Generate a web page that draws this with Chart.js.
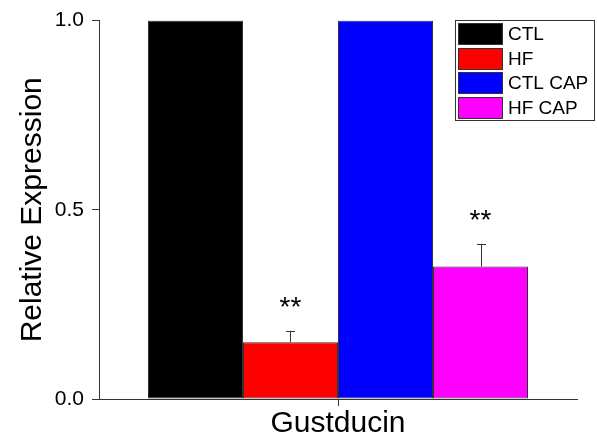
<!DOCTYPE html>
<html>
<head>
<meta charset="utf-8">
<script src="https://cdn.jsdelivr.net/npm/chart.js@4"></script>
<style>
  html, body { margin: 0; padding: 0; background: #fff; }
  canvas { display: block; }
</style>
</head>
<body>
<canvas id="grafico" width="597" height="442"></canvas>
<script>
const categorias = ['Gustducin'];
const grupos = ['CTL', 'HF', 'CTL CAP', 'HF CAP'];
const valores = [1.0, 0.15, 1.0, 0.35];
const erros = [0, 0.03, 0, 0.06];
const asteriscos = ['', '**', '', '**'];
const cores = ['#000000', '#ff0000', '#0000ff', '#ff00ff'];
const ticksY = [0, 0.5, 1.0];

const FONTE = 'Liberation Sans, Arial, sans-serif';
const CINZA = '#333333';

// barras de erro + asteriscos
const pluginErros = {
    id: 'erros',
    afterDatasetsDraw(chart) {
        const ctx = chart.ctx;
        const y = chart.scales.y;
        ctx.save();
        chart.data.datasets.forEach(function (ds, i) {
            const barra = chart.getDatasetMeta(i).data[0];
            if (!barra) return;
            let topo = y.getPixelForValue(valores[i]);
            if (erros[i] > 0) {
                topo = y.getPixelForValue(valores[i] + erros[i]);
                ctx.strokeStyle = CINZA;
                ctx.lineWidth = 1;
                ctx.beginPath();
                ctx.moveTo(Math.round(barra.x) + 0.5, y.getPixelForValue(valores[i]));
                ctx.lineTo(Math.round(barra.x) + 0.5, topo);
                ctx.moveTo(Math.round(barra.x) - 4, Math.round(topo) + 0.5);
                ctx.lineTo(Math.round(barra.x) + 5, Math.round(topo) + 0.5);
                ctx.stroke();
            }
            if (asteriscos[i]) {
                ctx.fillStyle = '#000';
                ctx.font = '28px ' + FONTE;
                ctx.textAlign = 'center';
                ctx.textBaseline = 'alphabetic';
                ctx.fillText(asteriscos[i], barra.x, topo - 15);
            }
        });
        ctx.restore();
    }
};

// legenda desenhada dentro da área do gráfico
const pluginLegenda = {
    id: 'legendaCaixa',
    afterDraw(chart) {
        const ctx = chart.ctx;
        ctx.save();
        ctx.strokeStyle = CINZA;
        ctx.lineWidth = 1;
        ctx.strokeRect(455.5, 20.5, 139, 100);
        chart.data.datasets.forEach(function (ds, i) {
            const topo = Math.round(23 + i * 24.6);
            ctx.fillStyle = ds.backgroundColor;
            ctx.fillRect(458, topo, 45, 22);
            ctx.strokeStyle = CINZA;
            ctx.strokeRect(458.5, topo + 0.5, 44, 21);
            ctx.fillStyle = '#000';
            ctx.font = '19px ' + FONTE;
            ctx.textAlign = 'left';
            ctx.textBaseline = 'middle';
            ctx.fillText(ds.label, 508, topo + 12);
        });
        ctx.restore();
    }
};

new Chart(document.getElementById('grafico'), {
    type: 'bar',
    data: {
        labels: categorias,
        datasets: grupos.map(function (g, i) {
            return {
                label: g,
                data: [valores[i]],
                backgroundColor: cores[i],
                borderColor: CINZA,
                borderWidth: 1,
                borderSkipped: false,
                categoryPercentage: 0.795,
                barPercentage: 1.0
            };
        })
    },
    options: {
        responsive: false,
        animation: false,
        devicePixelRatio: 1,
        layout: { padding: { top: 19, right: 20, left: 0, bottom: 0 } },
        plugins: {
            legend: { display: false },
            tooltip: { enabled: false }
        },
        scales: {
            x: {
                afterFit: function (s) { s.height = 43; },
                grid: { offset: false, drawOnChartArea: false, tickLength: 7, color: CINZA },
                border: { color: CINZA, width: 1 },
                ticks: { color: '#000', padding: 0, font: { family: FONTE, size: 30 } }
            },
            y: {
                min: 0,
                max: 1.0,
                afterFit: function (s) { s.width = 99; },
                afterBuildTicks: function (s) { s.ticks = ticksY.map(v => ({ value: v })); },
                grid: { drawOnChartArea: false, tickLength: 7, color: CINZA },
                border: { color: CINZA, width: 1 },
                ticks: {
                    color: '#000',
                    padding: 8,
                    font: { family: FONTE, size: 21 },
                    callback: function (v) { return Number(v).toFixed(1); }
                },
                title: {
                    display: true,
                    text: 'Relative Expression',
                    color: '#000',
                    font: { family: FONTE, size: 30 },
                    padding: { top: 15, bottom: 0 }
                }
            }
        }
    },
    plugins: [pluginErros, pluginLegenda]
});
</script>
</body>
</html>
